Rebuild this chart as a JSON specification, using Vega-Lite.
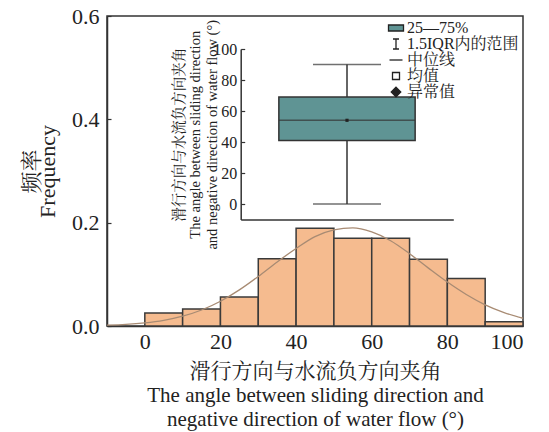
{
  "$schema": "https://vega.github.io/schema/vega-lite/v6.json",
  "width": 416,
  "height": 310,
  "autosize": "none",
  "padding": {"left": 107, "top": 16, "right": 26, "bottom": 106},
  "background": "white",
  "config": {
    "font": "Liberation Serif, Noto Serif CJK SC, Noto Sans CJK SC, serif",
    "view": {"stroke": "#333", "strokeWidth": 1.5},
    "axis": {
      "grid": false,
      "domainColor": "#333",
      "domainWidth": 1.5,
      "tickColor": "#333",
      "tickWidth": 1.2,
      "labelColor": "#222",
      "titleColor": "#222",
      "titleFontWeight": "normal",
      "labelFont": "Liberation Serif",
      "titleFont": "Liberation Serif, Noto Serif CJK SC, Noto Sans CJK SC, serif"
    }
  },
  "layer": [
    {
      "layer": [
        {
          "data": {"values": [
            {"bin_start": 0, "bin_end": 10, "freq": 0.025},
            {"bin_start": 10, "bin_end": 20, "freq": 0.033},
            {"bin_start": 20, "bin_end": 30, "freq": 0.056},
            {"bin_start": 30, "bin_end": 40, "freq": 0.130},
            {"bin_start": 40, "bin_end": 50, "freq": 0.189},
            {"bin_start": 50, "bin_end": 60, "freq": 0.170},
            {"bin_start": 60, "bin_end": 70, "freq": 0.170},
            {"bin_start": 70, "bin_end": 80, "freq": 0.129},
            {"bin_start": 80, "bin_end": 90, "freq": 0.092},
            {"bin_start": 90, "bin_end": 100, "freq": 0.008}
          ]},
          "mark": {"type": "bar", "fill": "#F5BB8F", "stroke": "#3a3a3a", "strokeWidth": 1.5},
          "encoding": {
            "x": {"field": "bin_start", "type": "quantitative",
              "scale": {"domain": [-10, 100], "nice": false, "zero": false},
              "axis": {"values": [0, 20, 40, 60, 80, 100], "ticks": false, "labelFontSize": 22, "labelPadding": 5,
                "title": ["滑行方向与水流负方向夹角", "The angle between sliding direction and", "negative direction of water flow (°)"],
                "titleFontSize": 21, "titleLineHeight": 24, "titlePadding": 8.5}},
            "x2": {"field": "bin_end"},
            "y": {"field": "freq", "type": "quantitative",
              "scale": {"domain": [0, 0.6], "nice": false},
              "axis": {"values": [0, 0.2, 0.4, 0.6], "format": ".1f", "tickSize": -4, "labelFontSize": 22, "labelPadding": 12,
                "title": ["频率", "Frequency"], "titleFontSize": 22, "titleLineHeight": 16, "titlePadding": 12}},
            "y2": {"datum": 0}
          }
        },
        {
          "data": {"values": [
            {"angle": -10, "density": 0.0015}, {"angle": -5, "density": 0.003},
            {"angle": 0, "density": 0.006}, {"angle": 5, "density": 0.011},
            {"angle": 10, "density": 0.019}, {"angle": 15, "density": 0.031},
            {"angle": 20, "density": 0.048}, {"angle": 25, "density": 0.070},
            {"angle": 30, "density": 0.096}, {"angle": 35, "density": 0.124},
            {"angle": 40, "density": 0.150}, {"angle": 45, "density": 0.173},
            {"angle": 50, "density": 0.186}, {"angle": 55, "density": 0.190},
            {"angle": 60, "density": 0.182}, {"angle": 65, "density": 0.165},
            {"angle": 70, "density": 0.140}, {"angle": 75, "density": 0.112},
            {"angle": 80, "density": 0.085}, {"angle": 85, "density": 0.061},
            {"angle": 90, "density": 0.041}, {"angle": 95, "density": 0.026},
            {"angle": 100, "density": 0.015}
          ]},
          "mark": {"type": "line", "color": "#A88B73", "strokeWidth": 1.3, "interpolate": "monotone"},
          "encoding": {
            "x": {"field": "angle", "type": "quantitative"},
            "y": {"field": "density", "type": "quantitative"}
          }
        }
      ]
    },
    {
      "data": {"values": [
        {"group": "angle", "lower": 0, "q1": 41, "median": 54, "q3": 69, "upper": 90, "mean": 54}
      ]},
      "encoding": {
        "x": {"field": "group", "type": "nominal",
          "scale": {"range": [133.7, 346.3], "paddingInner": 0, "paddingOuter": 0.28},
          "axis": {"orient": "bottom", "offset": -106.5, "labels": false, "ticks": false, "title": null}},
        "y": {"type": "quantitative"}
      },
      "layer": [
        {
          "mark": {"type": "rule", "stroke": "#333", "strokeWidth": 1.5},
          "encoding": {
            "y": {"field": "lower", "type": "quantitative",
              "scale": {"domain": [-10, 100], "range": [203.5, 33], "nice": false, "zero": false},
              "axis": {"orient": "left", "offset": -133.7, "values": [0, 20, 40, 60, 80, 100], "tickSize": -4,
                "labelFontSize": 16, "labelPadding": 8,
                "title": ["滑行方向与水流负方向夹角", "The angle between sliding direction", "and negative direction of water flow (°)"],
                "titleFontSize": 14.5, "titleLineHeight": 16.5, "titlePadding": -6.5}},
            "y2": {"field": "upper"}
          }
        },
        {
          "mark": {"type": "bar", "fill": "#5F9494", "stroke": "#333", "strokeWidth": 1.5},
          "encoding": {
            "y": {"field": "q1", "type": "quantitative"},
            "y2": {"field": "q3"}
          }
        },
        {
          "mark": {"type": "tick", "color": "#333", "size": 136, "thickness": 1.5},
          "encoding": {"y": {"field": "median", "type": "quantitative"}}
        },
        {
          "mark": {"type": "tick", "color": "#333", "size": 68, "thickness": 1.5},
          "encoding": {"y": {"field": "upper", "type": "quantitative"}}
        },
        {
          "mark": {"type": "tick", "color": "#333", "size": 68, "thickness": 1.5},
          "encoding": {"y": {"field": "lower", "type": "quantitative"}}
        },
        {
          "mark": {"type": "point", "shape": "square", "size": 10, "filled": true, "color": "#222", "opacity": 1},
          "encoding": {"y": {"field": "mean", "type": "quantitative"}}
        }
      ]
    },
    {
      "data": {"values": [
        {"item": "25—75%"}, {"item": "1.5IQR内的范围"}, {"item": "中位线"}, {"item": "均值"}, {"item": "异常值"}
      ]},
      "transform": [{"filter": "false"}],
      "mark": {"type": "point", "strokeWidth": 1.3, "opacity": 1},
      "encoding": {
        "shape": {"field": "item", "type": "nominal",
          "scale": {"domain": ["25—75%", "1.5IQR内的范围", "中位线", "均值", "异常值"],
            "range": ["M-1.5,-0.6H1.5V0.6H-1.5Z", "M-0.6,-1H0.6M0,-1V1M-0.6,1H0.6", "M-1.3,0H1.3", "M-0.7,-0.7H0.7V0.7H-0.7Z", "M0,-0.95L0.95,0L0,0.95L-0.95,0Z"]},
          "legend": {"orient": "none", "legendX": 281, "legendY": 4, "title": null,
            "symbolSize": 100, "symbolStrokeWidth": 1.3, "symbolOpacity": 1,
            "labelFontSize": 16, "labelColor": "#222", "labelOffset": 3, "rowPadding": -1,
            "labelFont": "Liberation Serif, Noto Serif CJK SC, Noto Sans CJK SC, serif"}},
        "fill": {"field": "item", "type": "nominal",
          "scale": {"domain": ["25—75%", "1.5IQR内的范围", "中位线", "均值", "异常值"],
            "range": ["#5F9494", "transparent", "transparent", "white", "#222"]}},
        "stroke": {"field": "item", "type": "nominal",
          "scale": {"domain": ["25—75%", "1.5IQR内的范围", "中位线", "均值", "异常值"],
            "range": ["#222", "#222", "#222", "#222", "#222"]}}
      }
    }
  ],
  "resolve": {"scale": {"x": "independent", "y": "independent"}}
}
